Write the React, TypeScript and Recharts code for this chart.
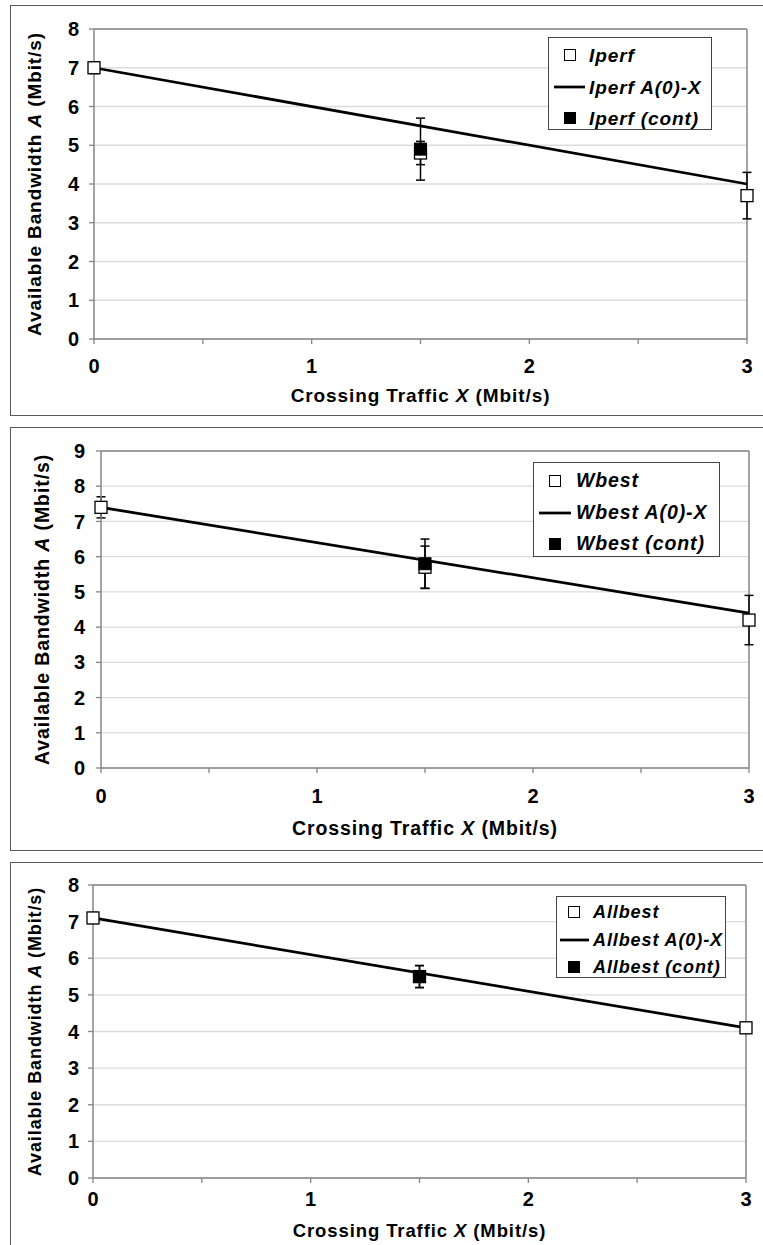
import React from "react";
import {
  ComposedChart,
  Scatter,
  Line,
  ErrorBar,
  XAxis,
  YAxis,
  CartesianGrid,
  ReferenceLine,
  Legend,
  Label,
} from "recharts";

// crossing traffic X (Mbit/s)
const crossingX = [0, 1.5, 3];
const contX = [1.5];
const fitX = [0, 3];

// Iperf
const iperfA = [7.0, 4.8, 3.7];
const iperfErr = [0.15, 0.3, 0.6];
const iperfContA = [4.9];
const iperfContErr = [0.8];
const iperfFit = [7.0, 4.0];

// Wbest
const wbestA = [7.4, 5.7, 4.2];
const wbestErr = [0.3, 0.6, 0.7];
const wbestContA = [5.8];
const wbestContErr = [0.7];
const wbestFit = [7.4, 4.4];

// Allbest
const allbestA = [7.1, 5.5, 4.1];
const allbestErr = [0.15, 0.3, 0.15];
const allbestContA = [5.5];
const allbestContErr = [0.3];
const allbestFit = [7.1, 4.1];

const xTicks = [0, 0.5, 1, 1.5, 2, 2.5, 3];
const yTicks8 = [0, 1, 2, 3, 4, 5, 6, 7, 8];
const yTicks9 = [0, 1, 2, 3, 4, 5, 6, 7, 8, 9];

const FONT = '"Liberation Sans", Arial, sans-serif';
const AXIS_GRAY = "#868686";
const TICK_FS = 20;

interface Pt {
  x: number;
  y: number;
  err: number;
}

function toPoints(xs: number[], ys: number[], errs?: number[]): Pt[] {
  return xs.map((x, i) => ({ x, y: ys[i], err: errs ? errs[i] : 0 }));
}

function OpenSquare(props: any) {
  const { cx, cy } = props;
  if (cx == null || cy == null) return <g />;
  return <rect x={cx - 6} y={cy - 6} width={12} height={12} fill="#fff" stroke="#000" strokeWidth={1.3} />;
}

function FilledSquare(props: any) {
  const { cx, cy } = props;
  if (cx == null || cy == null) return <g />;
  return <rect x={cx - 6} y={cy - 6} width={12} height={12} fill="#000" stroke="#000" strokeWidth={1} />;
}

function XTick(props: any) {
  const { x, y, payload } = props;
  const v = payload.value;
  if (!Number.isInteger(v)) return <g />;
  return (
    <text x={x} y={y} dy="0.71em" textAnchor="middle" fontFamily={FONT} fontWeight="bold" fontSize={TICK_FS} fill="#000">
      {v}
    </text>
  );
}

function YTick(props: any) {
  const { x, y, payload } = props;
  return (
    <text x={x} y={y} dy="0.355em" textAnchor="end" fontFamily={FONT} fontWeight="bold" fontSize={TICK_FS} fill="#000">
      {payload.value}
    </text>
  );
}

interface LegendLayout {
  left: number;
  top: number;
  w: number;
  h: number;
  first: number;
  gap: number;
  ix: number;
  lx1: number;
  lx2: number;
  textX: number;
  fs: number;
}

interface PanelLayout {
  top: number;
  height: number;
  chartH: number;
  xAxisH: number;
  mTop: number;
  yAxisW: number;
  mRight: number;
  yTickM: number;
  xTickM: number;
  yTitleX: number;
  yTitleFs: number;
  xTitleDy: number;
  xTitleFs: number;
  legend: LegendLayout;
}

function LegendBox({ name, lg }: { name: string; lg: LegendLayout }) {
  const rows = [
    { kind: "open", text: name },
    { kind: "line", text: `${name} A(0)-X` },
    { kind: "filled", text: `${name} (cont)` },
  ];
  return (
    <div
      style={{
        position: "relative",
        width: lg.w,
        height: lg.h,
        border: "1px solid #444",
        background: "#fff",
        boxSizing: "border-box",
      }}
    >
      {rows.map((r, i) => {
        const cy = lg.first + i * lg.gap;
        return (
          <React.Fragment key={i}>
            <svg style={{ position: "absolute", left: 0, top: cy - 8 }} width={lg.textX} height={16}>
              {r.kind === "line" ? (
                <line x1={lg.lx1} x2={lg.lx2} y1={8} y2={8} stroke="#000" strokeWidth={2.75} />
              ) : (
                <rect
                  x={lg.ix - 5.5}
                  y={2.5}
                  width={11}
                  height={11}
                  fill={r.kind === "open" ? "#fff" : "#000"}
                  stroke="#000"
                  strokeWidth={1}
                />
              )}
            </svg>
            <span
              style={{
                position: "absolute",
                left: lg.textX,
                top: cy,
                transform: "translateY(-50%)",
                fontFamily: FONT,
                fontWeight: "bold",
                fontStyle: "italic",
                fontSize: lg.fs,
                letterSpacing: 0.9,
                lineHeight: 1,
                whiteSpace: "nowrap",
                color: "#000",
              }}
            >
              {r.text}
            </span>
          </React.Fragment>
        );
      })}
    </div>
  );
}

interface PanelProps {
  name: string;
  measured: Pt[];
  cont: Pt[];
  fit: Pt[];
  yMax: number;
  yTicks: number[];
  lay: PanelLayout;
}

function Panel({ name, measured, cont, fit, yMax, yTicks, lay }: PanelProps) {
  return (
    <div
      style={{
        position: "absolute",
        left: 10,
        top: lay.top,
        width: 760,
        height: lay.height,
        border: "1px solid #5a5a5a",
        boxSizing: "border-box",
        background: "#fff",
      }}
    >
      <ComposedChart
        width={752}
        height={lay.chartH}
        margin={{ top: lay.mTop, right: lay.mRight, bottom: 0, left: 0 }}
      >
        <CartesianGrid vertical={false} stroke="#dcdcdc" strokeWidth={1.3} />
        <XAxis
          type="number"
          dataKey="x"
          domain={[0, 3]}
          ticks={xTicks}
          interval={0}
          height={lay.xAxisH}
          tick={<XTick />}
          tickSize={5}
          tickMargin={lay.xTickM}
          axisLine={{ stroke: AXIS_GRAY, strokeWidth: 1.5 }}
          tickLine={{ stroke: AXIS_GRAY, strokeWidth: 1.3 }}
        >
          <Label
            content={(p: any) => {
              const vb = p.viewBox || {};
              return (
                <text
                  x={vb.x + vb.width / 2}
                  y={vb.y + lay.xTitleDy}
                  textAnchor="middle"
                  dominantBaseline="central"
                  fontFamily={FONT}
                  fontWeight="bold"
                  fontSize={lay.xTitleFs}
                  letterSpacing={0.9}
                  fill="#000"
                >
                  Crossing Traffic <tspan fontStyle="italic">X</tspan> (Mbit/s)
                </text>
              );
            }}
          />
        </XAxis>
        <YAxis
          type="number"
          dataKey="y"
          domain={[0, yMax]}
          ticks={yTicks}
          interval={0}
          width={lay.yAxisW}
          tick={<YTick />}
          tickSize={5}
          tickMargin={lay.yTickM}
          axisLine={{ stroke: AXIS_GRAY, strokeWidth: 1.5 }}
          tickLine={{ stroke: AXIS_GRAY, strokeWidth: 1.3 }}
        >
          <Label
            content={(p: any) => {
              const vb = p.viewBox || {};
              const cx = lay.yTitleX;
              const cy = vb.y + vb.height / 2;
              return (
                <text
                  x={cx}
                  y={cy}
                  transform={`rotate(-90, ${cx}, ${cy})`}
                  textAnchor="middle"
                  dominantBaseline="central"
                  fontFamily={FONT}
                  fontWeight="bold"
                  fontSize={lay.yTitleFs}
                  letterSpacing={0.9}
                  fill="#000"
                >
                  Available Bandwidth <tspan fontStyle="italic">A</tspan> (Mbit/s)
                </text>
              );
            }}
          />
        </YAxis>
        <ReferenceLine y={yMax} stroke={AXIS_GRAY} strokeWidth={1.5} />
        <ReferenceLine x={3} stroke={AXIS_GRAY} strokeWidth={1.5} />
        <Line
          data={fit}
          dataKey="y"
          stroke="#000"
          strokeWidth={2.75}
          dot={false}
          activeDot={false}
          isAnimationActive={false}
          legendType="none"
        />
        <Scatter data={measured} fill="#fff" shape={OpenSquare} isAnimationActive={false}>
          <ErrorBar dataKey="err" direction="y" width={4.5} stroke="#000" strokeWidth={1.5} isAnimationActive={false} />
        </Scatter>
        <Scatter data={cont} fill="#000" shape={FilledSquare} isAnimationActive={false}>
          <ErrorBar dataKey="err" direction="y" width={4.5} stroke="#000" strokeWidth={1.5} isAnimationActive={false} />
        </Scatter>
        <Legend
          layout="horizontal"
          verticalAlign="middle"
          align="center"
          wrapperStyle={{
            left: lay.legend.left,
            top: lay.legend.top,
            width: lay.legend.w,
            height: lay.legend.h,
            margin: 0,
          }}
          content={() => <LegendBox name={name} lg={lay.legend} />}
        />
      </ComposedChart>
    </div>
  );
}

const layout1: PanelLayout = {
  top: 5,
  height: 411,
  chartH: 409,
  xAxisH: 76,
  mTop: 23,
  yAxisW: 83,
  mRight: 16,
  yTickM: 10,
  xTickM: 15,
  yTitleX: 23,
  yTitleFs: 19,
  xTitleDy: 56,
  xTitleFs: 19,
  legend: { left: 537, top: 31, w: 164, h: 93, first: 17, gap: 31.5, ix: 21, lx1: 5, lx2: 36, textX: 40, fs: 19 },
};

const layout2: PanelLayout = {
  top: 427,
  height: 424,
  chartH: 422,
  xAxisH: 82,
  mTop: 23,
  yAxisW: 90,
  mRight: 14,
  yTickM: 11,
  xTickM: 16,
  yTitleX: 31,
  yTitleFs: 19.5,
  xTitleDy: 60,
  xTitleFs: 19.5,
  legend: { left: 522, top: 34, w: 187, h: 95, first: 18, gap: 31.5, ix: 21, lx1: 5, lx2: 37, textX: 42, fs: 19.5 },
};

const layout3: PanelLayout = {
  top: 862,
  height: 400,
  chartH: 382,
  xAxisH: 67,
  mTop: 22,
  yAxisW: 82,
  mRight: 17,
  yTickM: 9,
  xTickM: 9,
  yTitleX: 24,
  yTitleFs: 18,
  xTitleDy: 52,
  xTitleFs: 18.5,
  legend: { left: 545, top: 33, w: 170, h: 82, first: 15, gap: 27.5, ix: 17, lx1: 3, lx2: 32, textX: 36, fs: 18 },
};

export default function App() {
  return (
    <div
      style={{
        position: "absolute",
        left: 0,
        top: 0,
        width: 763,
        height: 1245,
        overflow: "hidden",
        background: "#fff",
      }}
    >
      <Panel
        name="Iperf"
        measured={toPoints(crossingX, iperfA, iperfErr)}
        cont={toPoints(contX, iperfContA, iperfContErr)}
        fit={toPoints(fitX, iperfFit)}
        yMax={8}
        yTicks={yTicks8}
        lay={layout1}
      />
      <Panel
        name="Wbest"
        measured={toPoints(crossingX, wbestA, wbestErr)}
        cont={toPoints(contX, wbestContA, wbestContErr)}
        fit={toPoints(fitX, wbestFit)}
        yMax={9}
        yTicks={yTicks9}
        lay={layout2}
      />
      <Panel
        name="Allbest"
        measured={toPoints(crossingX, allbestA, allbestErr)}
        cont={toPoints(contX, allbestContA, allbestContErr)}
        fit={toPoints(fitX, allbestFit)}
        yMax={8}
        yTicks={yTicks8}
        lay={layout3}
      />
    </div>
  );
}
